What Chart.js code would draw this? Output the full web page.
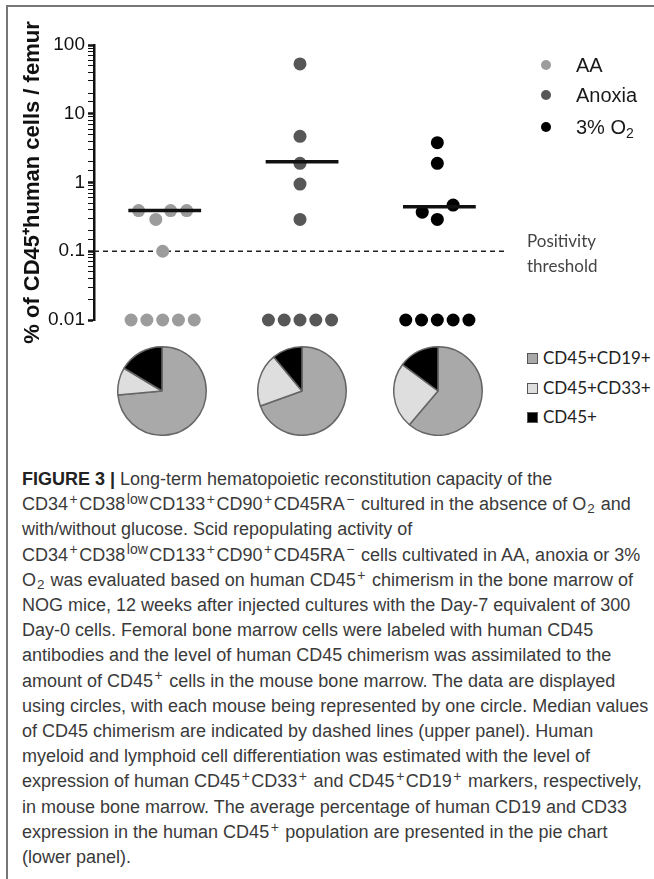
<!DOCTYPE html>
<html>
<head>
<meta charset="utf-8">
<script src="https://cdn.jsdelivr.net/npm/chart.js@4.4.1/dist/chart.umd.min.js"></script>
<style>
    body { margin: 0; background: #fff; width: 654px; height: 879px; overflow: hidden; position: relative; }
    .frame { position: absolute; left: 6px; top: 5px; width: 700px; height: 900px; border-top: 2px solid #777; border-left: 2px solid #777; }
    canvas { position: absolute; }
    .legend { position: absolute; font-family: "Liberation Sans", Arial, sans-serif; font-size: 20px; color: #1a1a1a; }
    .legend div { position: absolute; white-space: nowrap; line-height: 24px; height: 24px; }
    .legend .dot { display: inline-block; width: 10px; height: 10px; border-radius: 50%; position: absolute; left: -5px; top: 7px; }
    .legend span.t { position: absolute; left: 30px; top: 0; }
    .note { position: absolute; left: 527px; top: 228px; font-family: Lato, "Open Sans", sans-serif; font-size: 17px; line-height: 25px; color: #444; }
    .pielegend { position: absolute; left: 527px; font-family: Lato, "Open Sans", sans-serif; font-size: 17px; color: #222; white-space: nowrap; line-height: 20px; }
    .pielegend i { display: inline-block; width: 9px; height: 9px; border: 1px solid #555; margin-right: 5px; vertical-align: 0px; }
    .caption { position: absolute; left: 22px; top: 467px; font-family: "Liberation Sans", Arial, sans-serif; font-size: 18px; line-height: 25.2px; color: #3a3a3a; white-space: nowrap; }
    .caption sup { font-size: 0.78em; vertical-align: 0.45em; line-height: 0; padding: 0 1.5px; }
    .caption sub { font-size: 0.75em; vertical-align: -0.2em; line-height: 0; padding: 0 1px; }
    sub { font-size: 0.7em; vertical-align: -0.25em; line-height: 0; }
</style>
</head>
<body>
<div class="frame"></div>
<canvas id="dotChart" width="654" height="345" style="left:0;top:0"></canvas>
<canvas id="pie0" width="90" height="90"></canvas>
<canvas id="pie1" width="90" height="90"></canvas>
<canvas id="pie2" width="90" height="90"></canvas>

<div class="legend" id="groupLegend"></div>
<div class="note">Positivity<br>threshold</div>
<div id="pieLegend"></div>

<div class="caption">
<b style="color:#222">FIGURE 3 |</b> Long-term hematopoietic reconstitution capacity of the<br>
CD34<sup>+</sup>CD38<sup>low</sup>CD133<sup>+</sup>CD90<sup>+</sup>CD45RA<sup>−</sup> cultured in the absence of O<sub>2</sub> and<br>
with/without glucose. Scid repopulating activity of<br>
CD34<sup>+</sup>CD38<sup>low</sup>CD133<sup>+</sup>CD90<sup>+</sup>CD45RA<sup>−</sup> cells cultivated in AA, anoxia or 3%<br>
O<sub>2</sub> was evaluated based on human CD45<sup>+</sup> chimerism in the bone marrow of<br>
NOG mice, 12 weeks after injected cultures with the Day-7 equivalent of 300<br>
Day-0 cells. Femoral bone marrow cells were labeled with human CD45<br>
antibodies and the level of human CD45 chimerism was assimilated to the<br>
amount of CD45<sup>+</sup> cells in the mouse bone marrow. The data are displayed<br>
using circles, with each mouse being represented by one circle. Median values<br>
of CD45 chimerism are indicated by dashed lines (upper panel). Human<br>
myeloid and lymphoid cell differentiation was estimated with the level of<br>
expression of human CD45<sup>+</sup>CD33<sup>+</sup> and CD45<sup>+</sup>CD19<sup>+</sup> markers, respectively,<br>
in mouse bone marrow. The average percentage of human CD19 and CD33<br>
expression in the human CD45<sup>+</sup> population are presented in the pie chart<br>
(lower panel).
</div>

<script>
// groups on the x axis (1, 2, 3)
const groups = ['AA', 'Anoxia', '3% O<sub>2</sub>'];
const groupColors = ['#9c9c9c', '#575757', '#000000'];

// % of CD45+ human cells per femur, one value per mouse (0.01 = below detection)
const aaValues     = [0.39, 0.39, 0.39, 0.29, 0.1, 0.01, 0.01, 0.01, 0.01, 0.01];
const anoxiaValues = [53, 4.7, 1.9, 0.95, 0.29, 0.01, 0.01, 0.01, 0.01, 0.01];
const o2Values     = [3.8, 1.9, 0.37, 0.47, 0.29, 0.01, 0.01, 0.01, 0.01, 0.01];

// horizontal spread of the dots around each group (x units)
const aaJitter     = [-0.175, 0.058, 0.175, -0.05, 0, -0.23, -0.115, 0, 0.115, 0.23];
const anoxiaJitter = [0, 0, 0, 0, 0, -0.23, -0.115, 0, 0.115, 0.23];
const o2Jitter     = [0, 0, -0.11, 0.115, 0, -0.23, -0.115, 0, 0.115, 0.23];

const medians = [0.39, 2.0, 0.445];
const threshold = 0.1;
const yTicks = [0.01, 0.1, 1, 10, 100];

// pie charts: share of CD45+ cells
const pieLabels = ['CD45+CD19+', 'CD45+CD33+', 'CD45+'];
const pieColors = ['#a9a9a9', '#dedede', '#000000'];
const pieAA     = [73.6, 10.0, 16.4];
const pieAnoxia = [69.5, 19.5, 11.0];
const pieO2     = [61.2, 24.0, 14.8];

const isPow10 = v => Math.abs(Math.log10(v) - Math.round(Math.log10(v))) < 1e-6;

function buildDots(values, jitter, group) {
    return values.map((v, i) => ({ x: group + jitter[i], y: v }));
}

const dotSets = [
    buildDots(aaValues, aaJitter, 1),
    buildDots(anoxiaValues, anoxiaJitter, 2),
    buildDots(o2Values, o2Jitter, 3)
];

const datasets = [];
medians.forEach((m, i) => {
    datasets.push({
        type: 'line',
        data: [{ x: i + 1 - 0.25, y: m }, { x: i + 1 + 0.28, y: m }],
        borderColor: '#111',
        borderWidth: 3.5,
        pointRadius: 0,
        order: 0,
        clip: false
    });
});
dotSets.forEach((pts, i) => {
    datasets.push({
        type: 'scatter',
        data: pts,
        backgroundColor: groupColors[i],
        borderWidth: 0,
        pointRadius: 6.5,
        order: 1,
        clip: false
    });
});
datasets.push({
    type: 'line',
    data: [{ x: 0.5, y: threshold }, { x: 3.5, y: threshold }],
    borderColor: '#222',
    borderWidth: 1.5,
    borderDash: [5, 4],
    pointRadius: 0,
    order: 2,
    clip: false
});

new Chart(document.getElementById('dotChart'), {
    type: 'scatter',
    data: { datasets },
    options: {
        responsive: false,
        animation: false,
        layout: { padding: { top: 45, bottom: 25, left: 0, right: 148 } },
        plugins: { legend: { display: false }, tooltip: { enabled: false } },
        scales: {
            x: { type: 'linear', min: 0.5, max: 3.5, display: false },
            y: {
                type: 'logarithmic',
                min: yTicks[0],
                max: yTicks[yTicks.length - 1],
                border: { color: '#111', width: 2.5 },
                grid: {
                    drawOnChartArea: false,
                    tickLength: 6,
                    tickColor: '#111',
                    tickWidth: ctx => (ctx.tick && isPow10(ctx.tick.value)) ? 2.5 : 1
                },
                ticks: {
                    autoSkip: false,
                    padding: 3,
                    color: '#111',
                    font: { family: '"Liberation Sans", Arial, sans-serif', size: 19 },
                    callback: v => isPow10(v) ? String(parseFloat(v.toPrecision(3))) : ''
                },
                title: {
                    display: true,
                    text: '% of CD45\u207Ahuman cells / femur',
                    color: '#111',
                    font: { family: '"Liberation Sans", Arial, sans-serif', size: 22, weight: 'bold' },
                    padding: { top: 20, bottom: 0 }
                },
                afterFit: scale => { scale.width = 94; }
            }
        }
    }
});

// pies, centred under each group of dots
const pieData = [pieAA, pieAnoxia, pieO2];
const pieCentres = [162, 302, 438];
pieData.forEach((vals, i) => {
    const cv = document.getElementById('pie' + i);
    cv.style.left = (pieCentres[i] - 45) + 'px';
    cv.style.top = (391 - 45) + 'px';
    new Chart(cv, {
        type: 'pie',
        data: {
            labels: pieLabels,
            datasets: [{ data: vals, backgroundColor: pieColors, borderColor: '#666', borderWidth: 1.5 }]
        },
        options: {
            responsive: false,
            animation: false,
            layout: { padding: 0 },
            plugins: { legend: { display: false }, tooltip: { enabled: false } }
        }
    });
});

// group legend (top right)
const gl = document.getElementById('groupLegend');
const legendRows = [65, 95, 127];
groups.forEach((g, i) => {
    const row = document.createElement('div');
    row.style.left = '546px';
    row.style.top = (legendRows[i] - 12) + 'px';
    row.innerHTML = `<span class="dot" style="background:${groupColors[i]}"></span><span class="t">${g}</span>`;
    gl.appendChild(row);
});

// pie legend
const pl = document.getElementById('pieLegend');
const pieRows = [358, 388, 417];
pieLabels.forEach((l, i) => {
    const row = document.createElement('div');
    row.className = 'pielegend';
    row.style.top = (pieRows[i] - 10) + 'px';
    row.innerHTML = `<i style="background:${pieColors[i]}"></i>${l}`;
    pl.appendChild(row);
});
</script>
</body>
</html>
